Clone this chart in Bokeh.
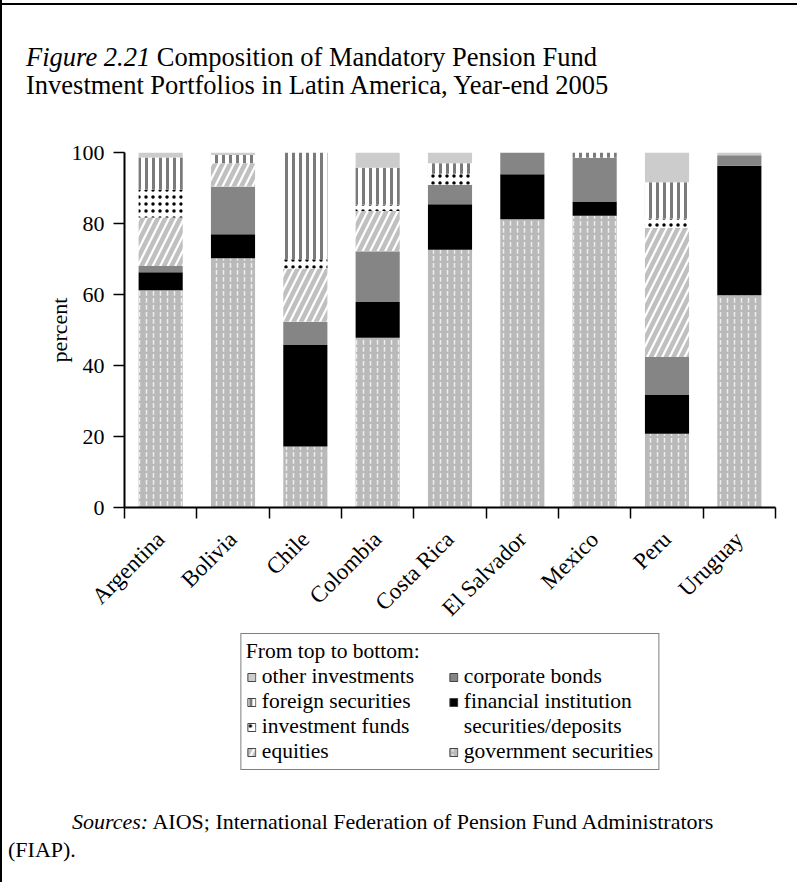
import math
from bokeh.plotting import figure
from bokeh.layouts import column
from bokeh.models import (ColumnDataSource, Range1d, FixedTicker, Legend, LegendItem, Div)
from bokeh.embed import file_html
from bokeh.resources import INLINE

# ---- data (percent of portfolio, year-end 2005) ----
countries = ["Argentina", "Bolivia", "Chile", "Colombia", "Costa Rica",
             "El Salvador", "Mexico", "Peru", "Uruguay"]
government = [61.2, 70.2, 17.2, 47.8, 72.6, 81.2, 82.2, 20.8, 59.8]
financial = [5.1, 6.8, 28.6, 10.1, 12.8, 12.7, 4.0, 10.9, 36.5]
corporate = [1.7, 13.4, 6.5, 14.3, 5.5, 6.1, 12.3, 10.7, 2.9]
equities = [13.7, 6.6, 15.0, 11.3, 0.0, 0.0, 0.0, 36.3, 0.0]
funds = [7.8, 0.0, 2.6, 1.8, 3.1, 0.0, 0.0, 2.7, 0.0]
foreign = [9.1, 2.3, 30.1, 10.4, 3.0, 0.0, 1.5, 10.2, 0.0]
other = [1.4, 0.7, 0.0, 4.3, 3.0, 0.0, 0.0, 8.4, 0.8]
y_ticks = [0, 20, 40, 60, 80, 100]

SERIF = "Liberation Serif"
W = 795

layers = ["government", "financial", "corporate", "equities", "funds", "foreign", "other"]
src = ColumnDataSource(dict(
    x=[i + 0.5 for i in range(len(countries))],
    government=government, financial=financial, corporate=corporate,
    equities=equities, funds=funds, foreign=foreign, other=other))

styles = {
    "government": dict(fill_color="#b9b9b9", hatch_pattern="vertical_dash", hatch_color="#eeeeee", hatch_scale=7, hatch_weight=1.5),
    "financial": dict(fill_color="#000000", hatch_pattern=None, hatch_color="black", hatch_scale=8, hatch_weight=1),
    "corporate": dict(fill_color="#858585", hatch_pattern=None, hatch_color="black", hatch_scale=8, hatch_weight=1),
    "equities": dict(fill_color="#ffffff", hatch_pattern="right_diagonal_line", hatch_color="#c0c0c0", hatch_scale=15, hatch_weight=4.5),
    "funds": dict(fill_color="#ffffff", hatch_pattern="dot", hatch_color="#000000", hatch_scale=7, hatch_weight=3),
    "foreign": dict(fill_color="#ffffff", hatch_pattern="vertical_line", hatch_color="#7a7a7a", hatch_scale=7, hatch_weight=3),
    "other": dict(fill_color="#cccccc", hatch_pattern=None, hatch_color="black", hatch_scale=8, hatch_weight=1),
}

# ---- title ----
title_html = (
    '<div style="border-top:2px solid #000; width:800px; margin-top:3px"></div>'
    '<div style="margin:38px 0 0 24px; font-family:\'Liberation Serif\'; font-size:26.5px; '
    'line-height:28px; color:#000; white-space:nowrap">'
    '<i>Figure 2.21</i> Composition of Mandatory Pension Fund<br>'
    'Investment Portfolios in Latin America, Year-end 2005</div>'
)
title_div = Div(text=title_html, width=W, height=130, margin=0)

# ---- chart ----
p = figure(width=W, height=502, x_range=Range1d(0, 9), y_range=Range1d(0, 100),
           output_backend="svg", toolbar_location=None,
           min_border_left=122, min_border_top=22, min_border_right=22, min_border_bottom=124)
p.outline_line_color = None
p.xgrid.visible = False
p.ygrid.visible = False

p.vbar_stack(
    layers, x="x", width=0.61, source=src, line_color=None,
    fill_color=[styles[k]["fill_color"] for k in layers],
    hatch_pattern=[styles[k]["hatch_pattern"] for k in layers],
    hatch_color=[styles[k]["hatch_color"] for k in layers],
    hatch_scale=[styles[k]["hatch_scale"] for k in layers],
    hatch_weight=[styles[k]["hatch_weight"] for k in layers],
)

yax = p.yaxis[0]
yax.ticker = FixedTicker(ticks=y_ticks, minor_ticks=[])
yax.axis_line_width = 2
yax.axis_line_color = "black"
yax.major_tick_out = 11
yax.major_tick_in = 0
yax.major_tick_line_width = 1.5
yax.major_tick_line_color = "black"
yax.major_label_text_font = SERIF
yax.major_label_text_font_size = "22px"
yax.major_label_text_color = "black"
yax.major_label_standoff = 9
yax.axis_label = "percent"
yax.axis_label_text_font = SERIF
yax.axis_label_text_font_size = "22px"
yax.axis_label_text_font_style = "normal"
yax.axis_label_text_color = "black"
yax.axis_label_standoff = -3

xax = p.xaxis[0]
xax.ticker = FixedTicker(ticks=[i + 0.5 for i in range(len(countries))],
                         minor_ticks=list(range(len(countries) + 1)))
xax.major_label_overrides = {i + 0.5: c for i, c in enumerate(countries)}
xax.axis_line_width = 2
xax.axis_line_color = "black"
xax.major_tick_line_color = None
xax.major_tick_out = 0
xax.major_tick_in = 0
xax.minor_tick_out = 11
xax.minor_tick_in = 0
xax.minor_tick_line_width = 1.5
xax.minor_tick_line_color = "black"
xax.major_label_orientation = math.pi / 4
xax.major_label_text_font = SERIF
xax.major_label_text_font_size = "23px"
xax.major_label_text_color = "black"
xax.major_label_standoff = 17

# ---- legend panel ----
leg = figure(width=W, height=158, x_range=Range1d(0, 1), y_range=Range1d(0, 1),
             output_backend="svg", toolbar_location=None, x_axis_type=None, y_axis_type=None,
             min_border_left=0, min_border_right=0, min_border_top=0, min_border_bottom=0)
leg.outline_line_color = None
leg.xgrid.visible = False
leg.ygrid.visible = False
nan_src = ColumnDataSource(dict(x=[float("nan")], top=[float("nan")]))

def swatch(k):
    return leg.vbar(x="x", top="top", width=0.5, source=nan_src, line_color="#444444",
                    line_width=1, **styles[k])

leg_items = [
    LegendItem(label="other investments", renderers=[swatch("other")]),
    LegendItem(label="foreign securities", renderers=[swatch("foreign")]),
    LegendItem(label="investment funds", renderers=[swatch("funds")]),
    LegendItem(label="equities", renderers=[swatch("equities")]),
    LegendItem(label="corporate bonds", renderers=[swatch("corporate")]),
    LegendItem(label="financial institution", renderers=[swatch("financial")]),
    LegendItem(label="securities/deposits",
               renderers=[leg.vbar(x="x", top="top", width=0.5, source=nan_src,
                                   fill_alpha=0, line_alpha=0)]),
    LegendItem(label="government securities", renderers=[swatch("government")]),
]
legend = Legend(items=leg_items, location="top_center", ncols=2,
                title="From top to bottom:", title_text_font=SERIF, title_text_font_size="21.5px",
                title_text_font_style="normal", title_text_color="black", title_standoff=0,
                label_text_font=SERIF, label_text_font_size="21.5px", label_text_color="black",
                glyph_width=10, glyph_height=10, label_height=20, label_width=186,
                label_standoff=6, spacing=0, padding=5, margin=1,
                border_line_color="black", border_line_width=1, background_fill_alpha=1)
leg.add_layout(legend, "center")

# ---- source note ----
src_html = (
    '<div style="margin:18px 0 0 6px; font-family:\'Liberation Serif\'; font-size:22px; '
    'line-height:28px; color:#000; white-space:nowrap">'
    '<span style="padding-left:64px"><i>Sources:</i> AIOS; International Federation of '
    'Pension Fund Administrators</span><br>(FIAP).</div>'
)
src_div = Div(text=src_html, width=W, height=92, margin=0)

page = column(title_div, p, leg, src_div, spacing=0, styles={"border-left": "2px solid black"})

open("out.html", "w").write(file_html(page, INLINE))
